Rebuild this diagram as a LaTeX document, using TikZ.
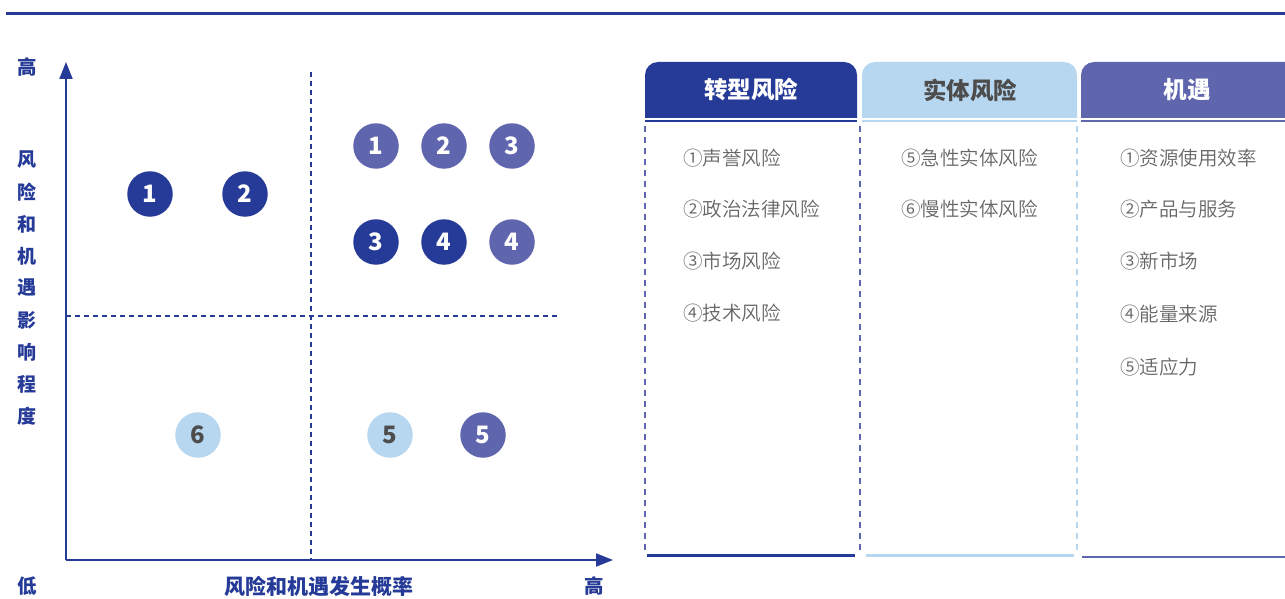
\documentclass[tikz,border=0pt]{standalone}
\usepackage{fontspec}
\setmainfont{Noto Sans CJK SC}[BoldFont={Noto Sans CJK SC Black}]
\newfontfamily\lightcjk{Noto Sans CJK SC DemiLight}
\usetikzlibrary{arrows.meta}
\definecolor{cdark}{RGB}{38,59,151}
\definecolor{cmed}{RGB}{95,102,174}
\definecolor{clight}{RGB}{183,215,240}
\definecolor{cgray}{RGB}{102,102,102}
\definecolor{cdgray}{RGB}{77,77,77}
\tikzset{
  dot/.style={circle,minimum size=45.5pt,inner sep=0pt,text=white,font=\fontsize{24}{24}\selectfont\bfseries},
  dotdark/.style={dot,fill=cdark},
  dotmed/.style={dot,fill=cmed},
  dotlight/.style={dot,fill=clight,text=cdgray},
  axlab/.style={text=cdark,font=\fontsize{19.5}{19.5}\selectfont\bfseries,inner sep=0pt},
  tabtxt/.style={font=\fontsize{23.5}{23.5}\selectfont\bfseries,inner sep=0pt},
  item/.style={anchor=west,text=cgray,font=\fontsize{19.5}{19.5}\lightcjk,inner sep=0pt},
  quad/.style={cdark,line width=1.2pt,dash pattern=on 5pt off 4pt},
  coldash/.style={line width=1.5pt,dash pattern=on 6pt off 5pt},
}
\begin{document}
\begin{tikzpicture}[x=1pt,y=-1pt]
\useasboundingbox (0,0) rectangle (1285,599);
\clip (0,0) rectangle (1285,599);
% top rule
\draw[cdark,line width=3pt] (6,14) -- (1290,14);
% axes
\coordinate (O) at (66,560);
\coordinate (Ytop) at (66,62);
\coordinate (Xend) at (613,560);
\draw[cdark,line width=1.8pt,-{Triangle[length=17pt,width=13pt]}] (O) -- (Ytop);
\draw[cdark,line width=1.8pt,-{Triangle[length=17pt,width=13pt]}] (O) -- (Xend);
% quadrant dashes
\coordinate (vd1) at (311,72);
\coordinate (vd2) at (311,560);
\coordinate (hd1) at (66,316);
\coordinate (hd2) at (557,316);
\draw[quad] (vd1) -- (vd2);
\draw[quad] (hd1) -- (hd2);
% axis labels
\node[axlab] (yhi) at (27,67) {高};
\node[axlab] (ylo) at (27,586) {低};
\node[axlab] (xhi) at (594,586) {高};
\node[axlab,font=\fontsize{21}{21}\selectfont\bfseries] (xlab) at (319,586) {风险和机遇发生概率};
\foreach \c [count=\i from 0] in {风,险,和,机,遇,影,响,程,度}
  \node[axlab,font=\fontsize{19}{19}\selectfont\bfseries] (yl\i) at (27,160+32*\i) {\c};
% dots
\node[dotdark] (a1) at (150,194) {1};
\node[dotdark] (a2) at (245,194) {2};
\node[dotmed] (b1) at (376,146) {1};
\node[dotmed] (b2) at (444,146) {2};
\node[dotmed] (b3) at (512,146) {3};
\node[dotdark] (a3) at (376,242) {3};
\node[dotdark] (a4) at (444,242) {4};
\node[dotmed] (b4) at (512,242) {4};
\node[dotlight] (c6) at (198,435) {6};
\node[dotlight] (c5) at (390,435) {5};
\node[dotmed] (b5) at (483,435) {5};
% tabs
\fill[cdark] (645,118) [rounded corners=13pt] -- (645,62) -- (857,62) [sharp corners] -- (857,118) -- cycle;
\fill[clight] (862,118) [rounded corners=13pt] -- (862,62) -- (1077,62) [sharp corners] -- (1077,118) -- cycle;
\fill[cmed] (1081,118) [rounded corners=13pt] -- (1081,62) -- (1320,62) [sharp corners] -- (1320,118) -- cycle;
\node[tabtxt,text=white] (t1) at (751,90) {转型风险};
\node[tabtxt,text=cdgray] (t2) at (970,90) {实体风险};
\node[tabtxt,text=white] (t3) at (1187,90) {机遇};
% lines under tabs
\draw[cdark,line width=2pt] (645,121) -- (857,121);
\draw[clight,line width=2pt] (862,121) -- (1077,121);
\draw[cmed,line width=2pt] (1081,121) -- (1290,121);
% column dashes
\draw[coldash,cmed] (645,126) -- (645,553);
\draw[coldash,cmed] (860,126) -- (860,553);
\draw[coldash,clight] (1077,126) -- (1077,553);
% bottom lines
\draw[cdark,line width=2.5pt] (647,555.5) -- (855,555.5);
\draw[clight,line width=2.5pt] (866,555.5) -- (1074,555.5);
\draw[cmed,line width=2.5pt] (1082,557) -- (1290,557);
% items
\node[item] (i11) at (683,158) {①声誉风险};
\node[item] (i12) at (683,209) {②政治法律风险};
\node[item] (i13) at (683,261) {③市场风险};
\node[item] (i14) at (683,313) {④技术风险};
\node[item] (i25) at (901,158) {⑤急性实体风险};
\node[item] (i26) at (901,209) {⑥慢性实体风险};
\node[item] (i31) at (1120,158) {①资源使用效率};
\node[item] (i32) at (1120,209) {②产品与服务};
\node[item] (i33) at (1120,261) {③新市场};
\node[item] (i34) at (1120,314) {④能量来源};
\node[item] (i35) at (1120,367) {⑤适应力};
\end{tikzpicture}
\end{document}
